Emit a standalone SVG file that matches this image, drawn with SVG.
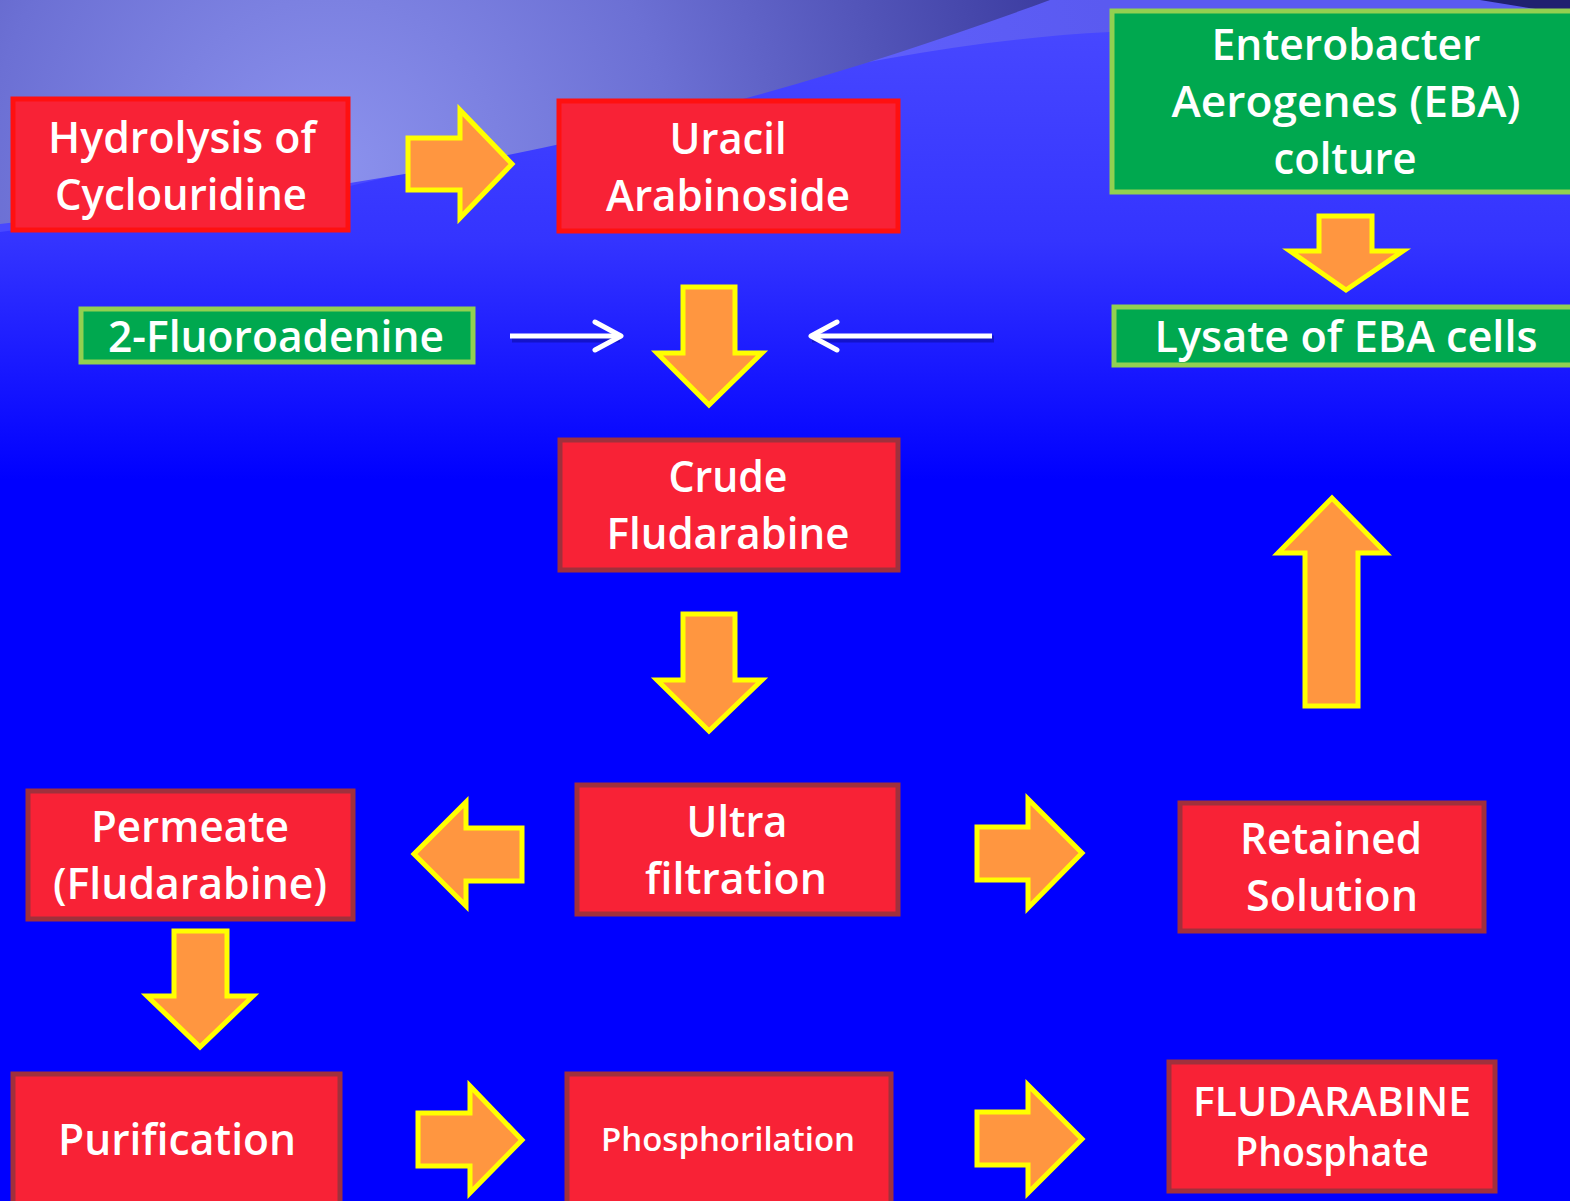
<svg xmlns="http://www.w3.org/2000/svg" width="1570" height="1201" viewBox="0 0 1570 1201">
<defs>
<linearGradient id="bg" x1="0" y1="0" x2="0" y2="1201" gradientUnits="userSpaceOnUse">
<stop offset="0" stop-color="#4a4aff"/>
<stop offset="0.2" stop-color="#3434ff"/>
<stop offset="0.4" stop-color="#0000ff"/>
<stop offset="1" stop-color="#0000ff"/>
</linearGradient>
<linearGradient id="band" x1="350" y1="180" x2="1110" y2="30" gradientUnits="userSpaceOnUse">
<stop offset="0" stop-color="#4848ff"/>
<stop offset="0.6" stop-color="#6060ff"/>
<stop offset="1" stop-color="#5a5af0"/>
</linearGradient>
<radialGradient id="lav" cx="330" cy="170" r="760" gradientUnits="userSpaceOnUse">
<stop offset="0" stop-color="#8c92ee"/>
<stop offset="0.45" stop-color="#6c70d4"/>
<stop offset="1" stop-color="#3a3a9e"/>
</radialGradient>
<marker id="chev" viewBox="0 0 32 34" refX="29" refY="17" markerWidth="32" markerHeight="34" markerUnits="userSpaceOnUse" orient="auto">
<path d="M3,3 L29,17 L3,31" fill="none" stroke="#ffffff" stroke-width="5" stroke-linejoin="round" stroke-linecap="round"/>
</marker>
</defs>
<style>
.red rect{fill:#f82236;stroke:#a0303c;stroke-width:5}
.red.hot rect{stroke:#ff1010}
.grn rect{fill:#00a84f;stroke:#92d050;stroke-width:5}
text{font-family:"Open Sans","Noto Sans","DejaVu Sans",sans-serif;font-weight:600;fill:#ffffff;text-anchor:middle;font-size:44px}
.blk{fill:#ff9640;stroke:#ffff00;stroke-width:5;stroke-linejoin:miter}
.wl{stroke:#ffffff;stroke-width:5;fill:none}
.sh{stroke:#000066;stroke-width:7;fill:none;opacity:0.35}
</style>

<!-- background -->
<rect x="0" y="0" width="1570" height="1201" fill="url(#bg)"/>
<path d="M0,232 L350,186 C600,128 850,45 1110,32 L1570,22 L1570,0 L0,0 Z" fill="url(#band)"/>
<path d="M0,0 L1050,0 C860,70 630,140 350,183 L0,224 Z" fill="url(#lav)"/>
<path d="M1480,0 L1570,0 L1570,14 C1540,10 1510,5 1480,0 Z" fill="#202070"/>

<!-- connectors -->
<g id="connectors">
<path class="blk" d="M408,138 H460 V110 L512,164 L460,218 V190 H408 Z"/>
<path class="blk" d="M683,287 H735 V353 H762 L709,405 L657,353 H683 Z"/>
<path class="blk" d="M1319,216 H1372 V251 H1403 L1346,290 L1290,251 H1319 Z"/>
<path class="blk" d="M683,614 H735 V680 H762 L709,731 L657,680 H683 Z"/>
<path class="blk" d="M522,828 V881 H466 V906 L414,854 L466,802 V828 Z"/>
<path class="blk" d="M977,827 H1028 V799 L1082,853 L1028,908 V880 H977 Z"/>
<path class="blk" d="M1305,706 V553 H1278 L1332,498 L1386,553 H1358 V706 Z"/>
<path class="blk" d="M174,931 H227 V996 H253 L200,1047 L147,996 H174 Z"/>
<path class="blk" d="M418,1113 H470 V1086 L522,1140 L470,1193 V1166 H418 Z"/>
<path class="blk" d="M977,1112 H1028 V1085 L1082,1139 L1028,1193 V1165 H977 Z"/>
<g>
<path class="sh" d="M512,339 H620"/>
<path class="sh" d="M994,339 H812"/>
<path class="wl" d="M510,336 H621" marker-end="url(#chev)"/>
<path class="wl" d="M992,336 H811" marker-end="url(#chev)"/>
</g>
</g>

<!-- nodes -->
<g id="n-hydrolysis" class="red hot">
<rect x="13" y="99" width="335" height="131"/>
<text x="182" y="153" textLength="268" lengthAdjust="spacingAndGlyphs">Hydrolysis of</text>
<text x="181" y="210" textLength="252" lengthAdjust="spacingAndGlyphs">Cyclouridine</text>
</g>
<g id="n-uracil" class="red hot">
<rect x="559" y="101" width="339" height="130"/>
<text x="728" y="154" textLength="117" lengthAdjust="spacingAndGlyphs">Uracil</text>
<text x="728" y="211" textLength="244" lengthAdjust="spacingAndGlyphs">Arabinoside</text>
</g>
<g id="n-eba" class="grn">
<rect x="1112" y="11" width="470" height="181"/>
<text x="1346" y="60" textLength="269" lengthAdjust="spacingAndGlyphs">Enterobacter</text>
<text x="1346" y="117" textLength="349" lengthAdjust="spacingAndGlyphs">Aerogenes (EBA)</text>
<text x="1345" y="174" textLength="143" lengthAdjust="spacingAndGlyphs">colture</text>
</g>
<g id="n-fluoro" class="grn">
<rect x="81" y="309" width="392" height="53"/>
<text x="276" y="352" textLength="336" lengthAdjust="spacingAndGlyphs">2-Fluoroadenine</text>
</g>
<g id="n-lysate" class="grn">
<rect x="1114" y="307" width="470" height="58"/>
<text x="1346" y="352" textLength="383" lengthAdjust="spacingAndGlyphs">Lysate of EBA cells</text>
</g>
<g id="n-crude" class="red">
<rect x="560" y="440" width="338" height="130"/>
<text x="728" y="492" textLength="119" lengthAdjust="spacingAndGlyphs">Crude</text>
<text x="728" y="549" textLength="243" lengthAdjust="spacingAndGlyphs">Fludarabine</text>
</g>
<g id="n-ultra" class="red">
<rect x="577" y="785" width="321" height="129"/>
<text x="737" y="837" textLength="101" lengthAdjust="spacingAndGlyphs">Ultra</text>
<text x="736" y="894" textLength="182" lengthAdjust="spacingAndGlyphs">filtration</text>
</g>
<g id="n-permeate" class="red">
<rect x="28" y="791" width="325" height="128"/>
<text x="190" y="842" textLength="198" lengthAdjust="spacingAndGlyphs">Permeate</text>
<text x="190" y="899" textLength="274" lengthAdjust="spacingAndGlyphs">(Fludarabine)</text>
</g>
<g id="n-retained" class="red">
<rect x="1180" y="803" width="304" height="128"/>
<text x="1331" y="854" textLength="182" lengthAdjust="spacingAndGlyphs">Retained</text>
<text x="1332" y="911" textLength="172" lengthAdjust="spacingAndGlyphs">Solution</text>
</g>
<g id="n-purification" class="red">
<rect x="13" y="1074" width="327" height="140"/>
<text x="177" y="1155" textLength="238" lengthAdjust="spacingAndGlyphs">Purification</text>
</g>
<g id="n-phospho" class="red">
<rect x="567" y="1074" width="324" height="140"/>
<text x="728" y="1151" style="font-size:33px" textLength="254" lengthAdjust="spacingAndGlyphs">Phosphorilation</text>
</g>
<g id="n-final" class="red">
<rect x="1169" y="1062" width="326" height="129"/>
<text x="1332" y="1116" style="font-size:39px" textLength="278" lengthAdjust="spacingAndGlyphs">FLUDARABINE</text>
<text x="1332" y="1166" style="font-size:39px" textLength="194" lengthAdjust="spacingAndGlyphs">Phosphate</text>
</g>
</svg>
